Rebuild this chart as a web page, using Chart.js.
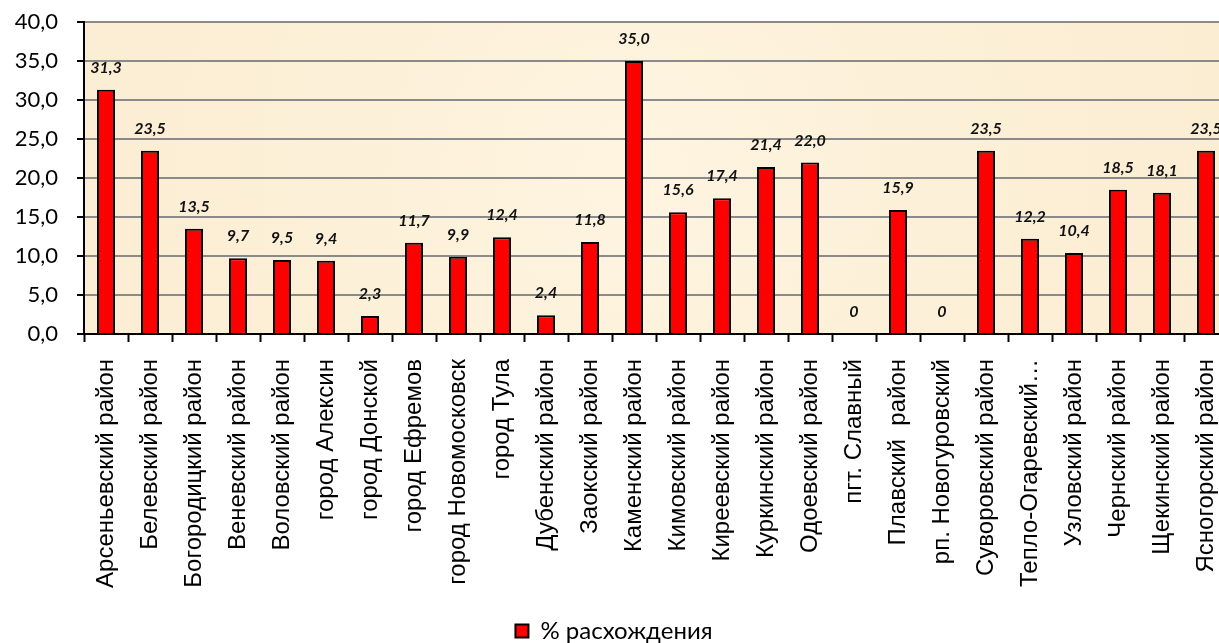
<!DOCTYPE html>
<html>
<head>
<meta charset="utf-8">
<script src="https://cdn.jsdelivr.net/npm/chart.js@4"></script>
<style>
  html, body { margin: 0; padding: 0; background: #fff; overflow: hidden; }
  #wrap { width: 1232px; height: 643px; }
</style>
</head>
<body>
<div id="wrap"><canvas id="chart"></canvas></div>
<script>
  const districts = [
    'Арсеньевский район', 'Белевский район', 'Богородицкий район', 'Веневский район',
    'Воловский район', 'город Алексин', 'город Донской', 'город Ефремов',
    'город Новомосковск', 'город Тула', 'Дубенский район', 'Заокский район',
    'Каменский район', 'Кимовский район', 'Киреевский район', 'Куркинский район',
    'Одоевский район', 'пгт. Славный', 'Плавский  район', 'рп. Новогуровский',
    'Суворовский район', 'Тепло-Огаревский район', 'Узловский район', 'Чернский район',
    'Щекинский район', 'Ясногорский район'
  ];
  const discrepancy = [
    31.3, 23.5, 13.5, 9.7, 9.5, 9.4, 2.3, 11.7, 9.9, 12.4, 2.4, 11.8, 35.0,
    15.6, 17.4, 21.4, 22.0, 0, 15.9, 0, 23.5, 12.2, 10.4, 18.5, 18.1, 23.5
  ];
  const seriesName = '% расхождения';
  const yTicks = [0, 5, 10, 15, 20, 25, 30, 35, 40];

  function fmt(v) {
    if (v === 0) return '0';
    return v.toFixed(1).replace('.', ',');
  }

  // фон области построения
  const plotBackground = {
    id: 'plotBackground',
    beforeDraw(chart) {
      const a = chart.chartArea;
      const ctx = chart.ctx;
      ctx.save();
      ctx.fillStyle = '#fcf0d8';
      ctx.fillRect(a.left, a.top, a.right - a.left, a.bottom - a.top);
      const g = ctx.createRadialGradient(a.left + 550, a.top + 150, 20, a.left + 550, a.top + 150, 650);
      g.addColorStop(0, 'rgba(255,246,228,0.7)');
      g.addColorStop(1, 'rgba(248,232,200,0.35)');
      ctx.fillStyle = g;
      ctx.fillRect(a.left, a.top, a.right - a.left, a.bottom - a.top);
      ctx.restore();
    }
  };

  // подписи значений над столбиками
  const valueLabels = {
    id: 'valueLabels',
    afterDatasetsDraw(chart) {
      const ctx = chart.ctx;
      const meta = chart.getDatasetMeta(0);
      ctx.save();
      ctx.font = 'italic bold 16px Lato, "DejaVu Sans", sans-serif';
      ctx.fillStyle = '#111';
      ctx.textAlign = 'center';
      ctx.textBaseline = 'middle';
      meta.data.forEach((bar, i) => {
        ctx.fillText(fmt(discrepancy[i]), bar.x, bar.y - 22);
      });
      ctx.restore();
    }
  };

  const ctx = document.getElementById('chart').getContext('2d');
  new Chart(ctx, {
    type: 'bar',
    data: {
      labels: districts,
      datasets: [{
        label: seriesName,
        data: discrepancy,
        backgroundColor: '#ff0000',
        borderColor: '#000',
        borderWidth: 2,
        categoryPercentage: 1,
        barPercentage: 0.41
      }]
    },
    options: {
      responsive: true,
      maintainAspectRatio: false,
      animation: false,
      layout: { padding: { top: 22, right: 4, left: 0, bottom: -10 } },
      plugins: {
        legend: {
          position: 'bottom',
          labels: {
            color: '#000',
            boxWidth: 13,
            boxHeight: 13,
            padding: 0,
            font: { family: 'Lato, "Open Sans", sans-serif', size: 24 }
          }
        },
        tooltip: { enabled: false }
      },
      scales: {
        x: {
          grid: {
            offset: true,
            drawOnChartArea: false,
            drawTicks: true,
            tickLength: 8,
            tickWidth: 2,
            tickColor: '#000'
          },
          border: { color: '#000', width: 2 },
          ticks: {
            autoSkip: false,
            minRotation: 90,
            maxRotation: 90,
            padding: 17,
            color: '#000',
            font: { family: '"Liberation Sans", Arial, sans-serif', size: 24 },
            callback: function (value) {
              const s = districts[value];
              return s.length > 20 ? s.slice(0, 16) + '…' : s;
            }
          },
          afterFit: function (scale) {
            scale.height = 285;
            scale.paddingLeft = 0;
            scale.paddingRight = 0;
          }
        },
        y: {
          min: 0,
          max: 40,
          afterBuildTicks: function (scale) {
            scale.ticks = yTicks.map(v => ({ value: v }));
          },
          grid: {
            color: '#8a8a8a',
            lineWidth: 2,
            tickLength: 7,
            tickWidth: 2,
            tickColor: '#000'
          },
          border: { color: '#000', width: 2 },
          ticks: {
            color: '#000',
            padding: 19,
            font: { family: 'Lato, "Open Sans", sans-serif', size: 22 },
            callback: v => v.toFixed(1).replace('.', ',')
          },
          afterFit: function (scale) {
            scale.width = 84;
            scale.paddingTop = 0;
            scale.paddingBottom = 0;
          }
        }
      }
    },
    plugins: [plotBackground, valueLabels]
  });
</script>
</body>
</html>
